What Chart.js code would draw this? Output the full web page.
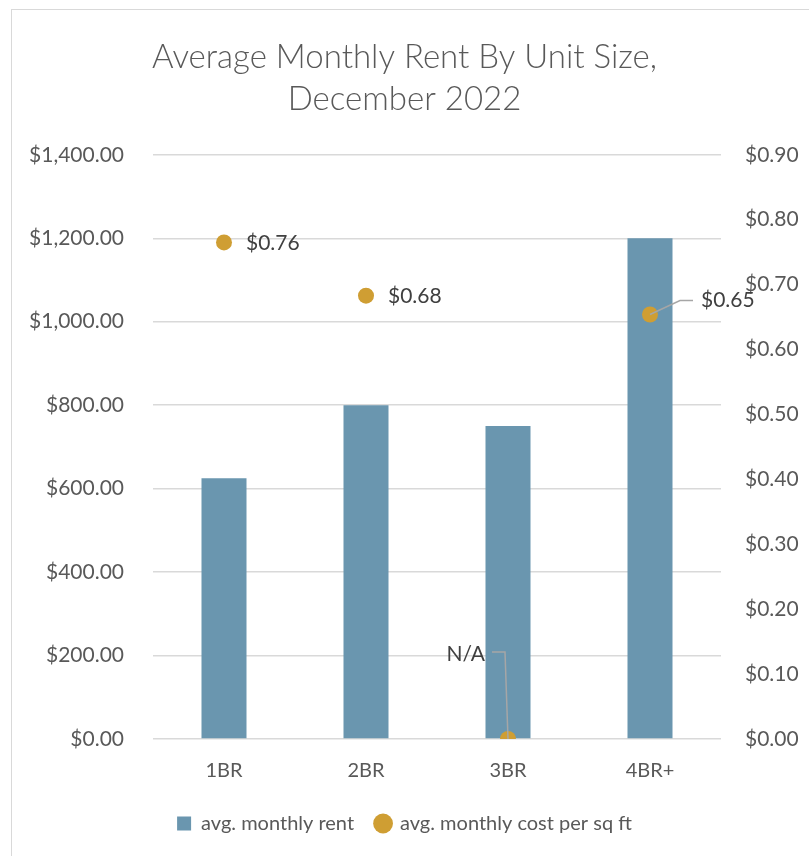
<!DOCTYPE html>
<html>
<head>
<meta charset="utf-8">
<script src="https://cdn.jsdelivr.net/npm/chart.js@4"></script>
<style>
  html, body { margin: 0; padding: 0; background: #fff; overflow: hidden; }
  #wrap { width: 809px; height: 856px; }
</style>
</head>
<body>
<div id="wrap"><canvas id="rentChart" width="809" height="856"></canvas></div>
<script>
const unitSizes = ['1BR', '2BR', '3BR', '4BR+'];
const avgRent = [625, 800, 750, 1200];
// the labels show them rounded to the cent
const costPerSqFt = [0.765, 0.683, 0, 0.654];
const costLabels = ['$0.76', '$0.68', 'N/A', '$0.65'];

const textColor = '#595959';
const labelColor = '#404040';
const fontFamily = 'Lato, "Open Sans", sans-serif';

// fixed widths so the plot sits where it does in the original
const fixWidth = w => axis => { axis.width = w; };
const fixHeight = h => axis => { axis.height = h; };

const frame = {
  id: 'frame',
  beforeDraw(chart) {
    const ctx = chart.ctx;
    ctx.save();
    ctx.strokeStyle = '#D9D9D9';
    ctx.lineWidth = 1;
    ctx.strokeRect(11.5, 9.5, 900, 900);
    ctx.restore();
  }
};

// labels next to the points, with leader lines for two of them
const pointLabels = {
  id: 'pointLabels',
  afterDatasetsDraw(chart) {
    const ctx = chart.ctx;
    const meta = chart.getDatasetMeta(1);
    ctx.save();
    ctx.font = '21px ' + fontFamily;
    ctx.fillStyle = labelColor;
    ctx.textBaseline = 'middle';
    ctx.strokeStyle = '#A6A6A6';
    ctx.lineWidth = 1.5;
    meta.data.forEach((pt, i) => {
      const txt = costLabels[i];
      if (i === 2) {
        // N/A sits up and to the left
        const ly = pt.y - 87;
        ctx.beginPath();
        ctx.moveTo(pt.x, pt.y);
        ctx.lineTo(pt.x - 3, ly);
        ctx.lineTo(pt.x - 16, ly);
        ctx.stroke();
        ctx.textAlign = 'right';
        ctx.fillText(txt, pt.x - 23, ly + 2);
      } else if (i === 3) {
        const ly = pt.y - 14;
        ctx.beginPath();
        ctx.moveTo(pt.x, pt.y);
        ctx.lineTo(pt.x + 30, ly);
        ctx.lineTo(pt.x + 43, ly);
        ctx.stroke();
        ctx.textAlign = 'left';
        ctx.fillText(txt, pt.x + 51, ly);
      } else {
        ctx.textAlign = 'left';
        ctx.fillText(txt, pt.x + 22, pt.y + 1);
      }
    });
    ctx.restore();
  }
};

const ctx = document.getElementById('rentChart').getContext('2d');
const rentChart = new Chart(ctx, {
  type: 'bar',
  data: {
    labels: unitSizes,
    datasets: [
      {
        type: 'bar',
        label: 'avg. monthly rent',
        data: avgRent,
        backgroundColor: '#6A96AF',
        yAxisID: 'y',
        categoryPercentage: 1,
        barPercentage: 0.317,
        order: 2
      },
      {
        type: 'line',
        label: 'avg. monthly cost per sq ft',
        data: costPerSqFt,
        yAxisID: 'y1',
        showLine: false,
        pointStyle: 'circle',
        pointRadius: 8,
        pointHoverRadius: 8,
        backgroundColor: '#CF9E33',
        borderColor: '#CF9E33',
        borderWidth: 0,
        order: 1
      }
    ]
  },
  options: {
    responsive: false,
    animation: false,
    layout: { padding: { left: 0, right: 0, top: 0, bottom: 12.5 } },
    plugins: {
      title: {
        display: true,
        text: ['Average Monthly Rent By Unit Size,', 'December 2022'],
        color: textColor,
        font: { family: fontFamily, size: 33, weight: '300', lineHeight: 1.27 },
        padding: { top: 36, bottom: 35 }
      },
      legend: {
        position: 'bottom',
        labels: {
          color: textColor,
          font: { family: fontFamily, size: 20 },
          usePointStyle: true,
          boxWidth: 14,
          boxHeight: 14,
          padding: 22,
          generateLabels(chart) {
            return chart.data.datasets.map((ds, i) => ({
              text: ds.label,
              fillStyle: ds.backgroundColor,
              strokeStyle: ds.backgroundColor,
              lineWidth: 0,
              pointStyle: i === 0 ? 'rect' : 'circle',
              fontColor: textColor,
              datasetIndex: i
            }));
          }
        }
      },
      tooltip: { enabled: false }
    },
    scales: {
      x: {
        grid: { display: false },
        border: { display: false },
        ticks: { color: textColor, font: { family: fontFamily, size: 20 }, padding: 12 },
        afterFit: fixHeight(52.5)
      },
      y: {
        position: 'left',
        min: 0,
        max: 1400,
        ticks: {
          stepSize: 200,
          color: textColor,
          font: { family: fontFamily, size: 21 },
          padding: 29,
          callback: v => '$' + v.toLocaleString('en-US', { minimumFractionDigits: 2 })
        },
        grid: { color: '#D9D9D9', lineWidth: 1.5, drawTicks: false },
        border: { display: false },
        afterFit: fixWidth(153)
      },
      y1: {
        position: 'right',
        min: 0,
        max: 0.9,
        ticks: {
          stepSize: 0.1,
          color: textColor,
          font: { family: fontFamily, size: 21 },
          padding: 24,
          callback: v => '$' + v.toFixed(2)
        },
        grid: { display: false, drawTicks: false },
        border: { display: false },
        afterFit: fixWidth(88)
      }
    }
  },
  plugins: [frame, pointLabels]
});
</script>
</body>
</html>
